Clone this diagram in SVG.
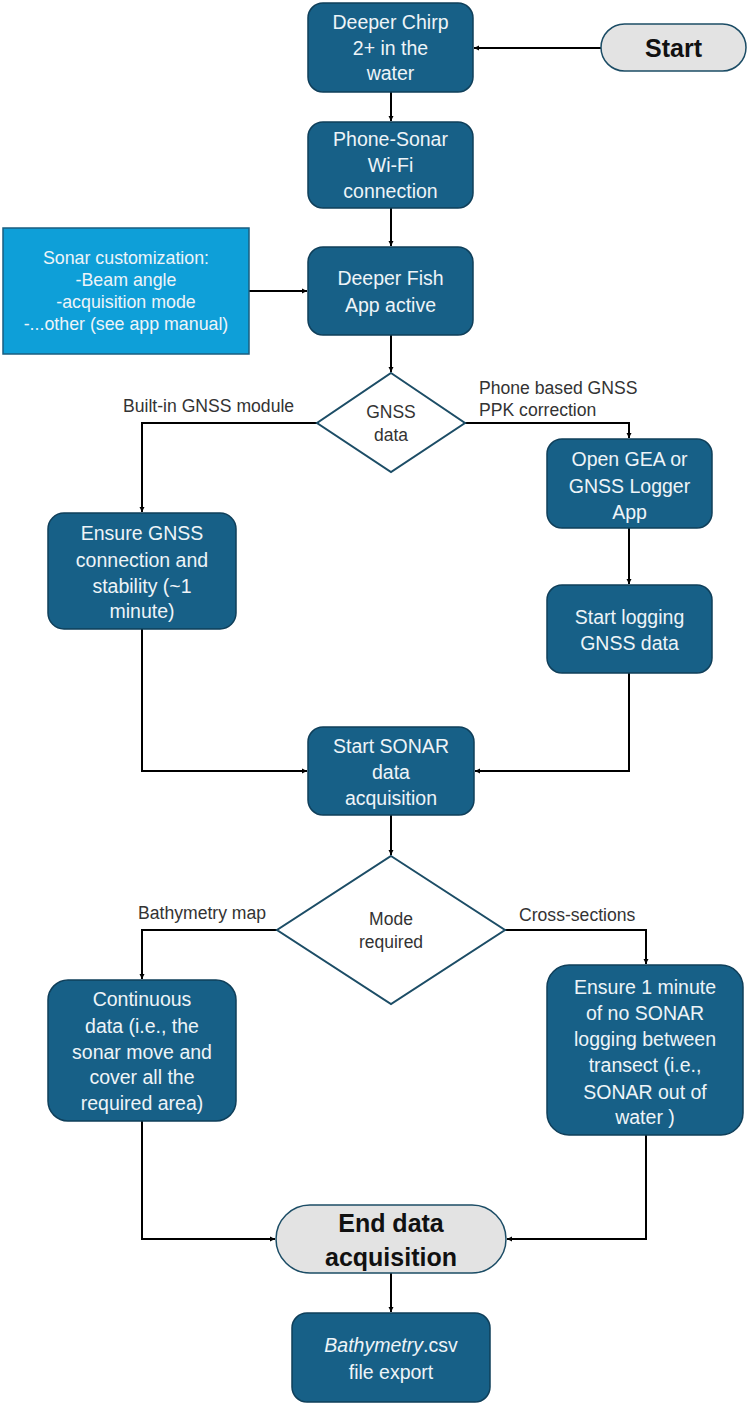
<svg xmlns="http://www.w3.org/2000/svg" width="750" height="1405" viewBox="0 0 750 1405">
<defs>
<marker id="ah" viewBox="0 0 10 10" refX="10" refY="5" markerWidth="5" markerHeight="5" markerUnits="userSpaceOnUse" orient="auto" overflow="visible">
<path d="M0,0 L10,5 L0,10 z" fill="#000"/>
</marker>
<style>
.box{fill:#176087;stroke:#0f3f5a;stroke-width:1.5}
.cust{fill:#0e9fd8;stroke:#1a5e80;stroke-width:1.5}
.term{fill:#e3e3e3;stroke:#1c4d66;stroke-width:1.5}
.dia{fill:#fff;stroke:#1c4d66;stroke-width:2}
.t{font-family:"Liberation Sans",Arial,sans-serif;font-size:19.5px;fill:#eef4f8;text-anchor:middle}
.tc{font-family:"Liberation Sans",Arial,sans-serif;font-size:17.8px;fill:#eef4f8;text-anchor:middle}
.tb{font-family:"Liberation Sans",Arial,sans-serif;font-size:25px;font-weight:bold;fill:#111;text-anchor:middle}
.td{font-family:"Liberation Sans",Arial,sans-serif;font-size:17.5px;fill:#333;text-anchor:middle}
.lbl{font-family:"Liberation Sans",Arial,sans-serif;font-size:17.6px;fill:#333}
.c{fill:none;stroke:#000;stroke-width:2;marker-end:url(#ah)}
</style>
</defs>
<rect width="750" height="1405" fill="#fff"/>

<g id="connectors">
<path class="c" d="M601,48 L474,48"/>
<path class="c" d="M391,92 L391,121"/>
<path class="c" d="M391,208 L391,246"/>
<path class="c" d="M249,291 L307,291"/>
<path class="c" d="M391,335 L391,372"/>
<path class="c" d="M317,423 L142,423 L142,512"/>
<path class="c" d="M465,423 L629,423 L629,438"/>
<path class="c" d="M629,528 L629,584"/>
<path class="c" d="M142,629 L142,771 L307,771"/>
<path class="c" d="M629,673 L629,771 L475,771"/>
<path class="c" d="M391,815 L391,855"/>
<path class="c" d="M277,930 L142,930 L142,979"/>
<path class="c" d="M505,930 L646,930 L646,964"/>
<path class="c" d="M142,1121 L142,1239 L275,1239"/>
<path class="c" d="M646,1135 L646,1239 L507,1239"/>
<path class="c" d="M391,1273 L391,1312"/>
<text class="lbl" x="123" y="412">Built-in GNSS module</text>
<text class="lbl" x="479" y="394">Phone based GNSS</text>
<text class="lbl" x="479" y="416">PPK correction</text>
<text class="lbl" x="138" y="919">Bathymetry map</text>
<text class="lbl" x="519" y="921">Cross-sections</text>
</g>

<g id="start">
<rect class="term" x="601" y="24" width="145" height="47" rx="23.5"/>
<text class="tb" x="673.5" y="57">Start</text>
</g>

<g id="chirp">
<rect class="box" x="308" y="3" width="165" height="89" rx="15"/>
<text class="t" x="390.5" y="29">Deeper Chirp</text>
<text class="t" x="390.5" y="55">2+ in the</text>
<text class="t" x="390.5" y="80">water</text>
</g>

<g id="wifi">
<rect class="box" x="308" y="122" width="165" height="86" rx="15"/>
<text class="t" x="390.5" y="146">Phone-Sonar</text>
<text class="t" x="390.5" y="172">Wi-Fi</text>
<text class="t" x="390.5" y="198">connection</text>
</g>

<g id="custom">
<rect class="cust" x="3" y="228" width="246" height="126"/>
<text class="tc" x="126" y="264">Sonar customization:</text>
<text class="tc" x="126" y="286">-Beam angle</text>
<text class="tc" x="126" y="308">-acquisition mode</text>
<text class="tc" x="126" y="330">-...other (see app manual)</text>
</g>

<g id="app">
<rect class="box" x="308" y="247" width="165" height="88" rx="15"/>
<text class="t" x="390.5" y="285">Deeper Fish</text>
<text class="t" x="390.5" y="312">App active</text>
</g>

<g id="gnss">
<path class="dia" d="M391,373 L465,423 L391,472 L317,423 Z"/>
<text class="td" x="391" y="418">GNSS</text>
<text class="td" x="391" y="441">data</text>
</g>

<g id="ensure-gnss">
<rect class="box" x="48" y="513" width="188" height="116" rx="16"/>
<text class="t" x="142" y="540">Ensure GNSS</text>
<text class="t" x="142" y="567">connection and</text>
<text class="t" x="142" y="593">stability (~1</text>
<text class="t" x="142" y="618">minute)</text>
</g>

<g id="open-gea">
<rect class="box" x="547" y="439" width="165" height="89" rx="15"/>
<text class="t" x="629.5" y="466">Open GEA or</text>
<text class="t" x="629.5" y="493">GNSS Logger</text>
<text class="t" x="629.5" y="519">App</text>
</g>

<g id="logging">
<rect class="box" x="547" y="585" width="165" height="88" rx="15"/>
<text class="t" x="629.5" y="624">Start logging</text>
<text class="t" x="629.5" y="650">GNSS data</text>
</g>

<g id="sonar">
<rect class="box" x="308" y="727" width="166" height="88" rx="15"/>
<text class="t" x="391" y="753">Start SONAR</text>
<text class="t" x="391" y="779">data</text>
<text class="t" x="391" y="805">acquisition</text>
</g>

<g id="mode">
<path class="dia" d="M391,856 L505,930 L391,1004 L277,930 Z"/>
<text class="td" x="391" y="925">Mode</text>
<text class="td" x="391" y="948">required</text>
</g>

<g id="continuous">
<rect class="box" x="48" y="980" width="188" height="141" rx="20"/>
<text class="t" x="142" y="1006">Continuous</text>
<text class="t" x="142" y="1033">data (i.e., the</text>
<text class="t" x="142" y="1059">sonar move and</text>
<text class="t" x="142" y="1084">cover all the</text>
<text class="t" x="142" y="1110">required area)</text>
</g>

<g id="cross">
<rect class="box" x="547" y="965" width="196" height="170" rx="22"/>
<text class="t" x="645" y="994">Ensure 1 minute</text>
<text class="t" x="645" y="1020">of no SONAR</text>
<text class="t" x="645" y="1046">logging between</text>
<text class="t" x="645" y="1072">transect (i.e.,</text>
<text class="t" x="645" y="1099">SONAR out of</text>
<text class="t" x="645" y="1124">water )</text>
</g>

<g id="end">
<rect class="term" x="276" y="1205" width="230" height="68" rx="34"/>
<text class="tb" x="391" y="1232">End data</text>
<text class="tb" x="391" y="1266">acquisition</text>
</g>

<g id="export">
<rect class="box" x="292" y="1313" width="198" height="89" rx="15"/>
<text class="t" x="391" y="1352"><tspan font-style="italic">Bathymetry</tspan>.csv</text>
<text class="t" x="391" y="1379">file export</text>
</g>
</svg>
